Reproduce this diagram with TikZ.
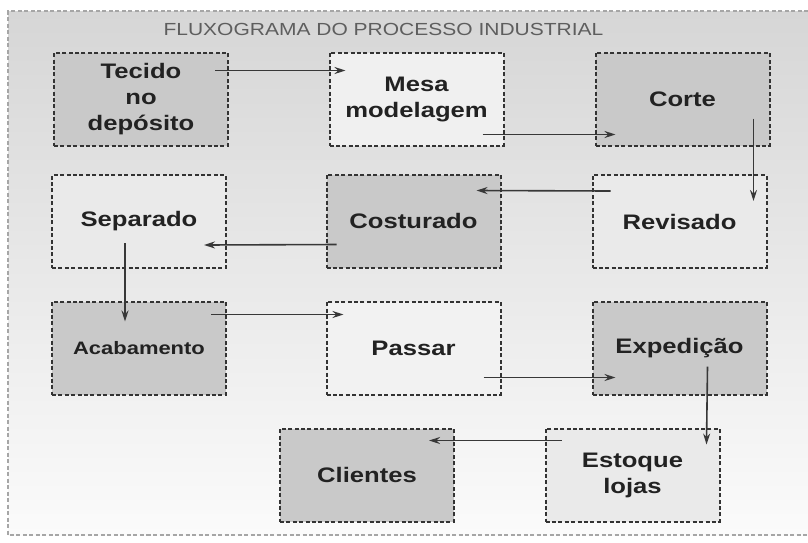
\documentclass[tikz,border=0pt]{standalone}
\usepackage{fontspec}
\usetikzlibrary{arrows.meta,calc}
\newfontfamily\boxfam[FakeStretch=1.22]{Liberation Sans}
\newfontfamily\titlefam[FakeStretch=1.2]{Liberation Sans}
\definecolor{darkfill}{HTML}{C9C9C9}
\definecolor{lightfill}{HTML}{EAEAEA}
\definecolor{bordercol}{HTML}{333333}
\definecolor{textcol}{HTML}{222222}
\definecolor{arrowcol}{HTML}{383838}
\definecolor{titlecol}{HTML}{5E5E5E}
\definecolor{frametop}{HTML}{D6D6D6}
\definecolor{framebot}{HTML}{FBFBFB}
\begin{document}
\begin{tikzpicture}[x=1pt,y=-1pt,
  box/.style={draw=bordercol, line width=2pt, dash pattern=on 4pt off 2.4pt,
    minimum width=174pt, minimum height=93pt, inner sep=0pt, align=center,
    text=textcol, font=\boxfam\bfseries\fontsize{21}{26}\selectfont},
  dbox/.style={box, fill=darkfill},
  lbox/.style={box, fill=lightfill},
  arr/.style={draw=arrowcol, line width=1.6pt, -{Stealth[length=11pt,width=7pt]}}]
\useasboundingbox (0,0) rectangle (808,542);
\fill[white] (0,0) rectangle (808,542);
\shade[top color=frametop, bottom color=framebot] (8,11) rectangle (808,535);
\draw[gray!70, line width=1.3pt, dash pattern=on 4pt off 2.5pt] (808,11) -- (8,11) -- (8,535) -- (808,535);
\node[text=titlecol, font=\titlefam\fontsize{17.5}{19}\selectfont, anchor=west] (title) at (160,29) {FLUXOGRAMA DO PROCESSO INDUSTRIAL};

\node[dbox] (tecido) at (141,99) {Tecido\\no\\depósito};
\node[lbox, fill=lightfill!70!white] (mesa) at (416.5,99) {Mesa\\modelagem};
\node[dbox] (corte) at (682.5,99) {Corte};
\node[lbox] (separado) at (139,221.5) {Separado};
\node[dbox] (costurado) at (413.5,221) {Costurado};
\node[lbox] (revisado) at (679.5,221.5) {Revisado};
\node[dbox, font=\boxfam\bfseries\fontsize{18}{20}\selectfont] (acabamento) at (139,348) {Acabamento};
\node[lbox, fill=lightfill!60!white] (passar) at (413.5,348) {Passar};
\node[dbox] (expedicao) at (679.5,348) {Expedição};
\node[dbox] (clientes) at (367,475) {Clientes};
\node[lbox] (estoque) at (632.5,475) {Estoque\\lojas};

\draw[arr] ([shift={(-14,19)}]tecido.north east) -- ([shift={(17,19)}]mesa.north west);
\draw[arr] ([shift={(-22,-12)}]mesa.south east) -- ([shift={(21,-12)}]corte.south west);
\draw[arr] ([shift={(-17,-28)}]corte.south east) -- ([shift={(-14,27)}]revisado.north east);
\draw[arr] ([shift={(19,17)}]revisado.north west) -- ([shift={(-25,17)}]costurado.north east);
\draw[arr] ([shift={(11,-24)}]costurado.south west) -- ([shift={(-23,-24)}]separado.south east);
\draw[arr] ([shift={(74,-26)}]separado.south west) -- ([shift={(74,21)}]acabamento.north west);
\draw[arr] ([shift={(-16,14)}]acabamento.north east) -- ([shift={(18,14)}]passar.north west);
\draw[arr] ([shift={(-18,-18)}]passar.south east) -- ([shift={(24,-18)}]expedicao.south west);
\draw[arr] ([shift={(-60,-29)}]expedicao.south east) -- ([shift={(-14,17)}]estoque.north east);
\draw[arr] ([shift={(17,13)}]estoque.north west) -- ([shift={(-26,13)}]clientes.north east);
\end{tikzpicture}
\end{document}
